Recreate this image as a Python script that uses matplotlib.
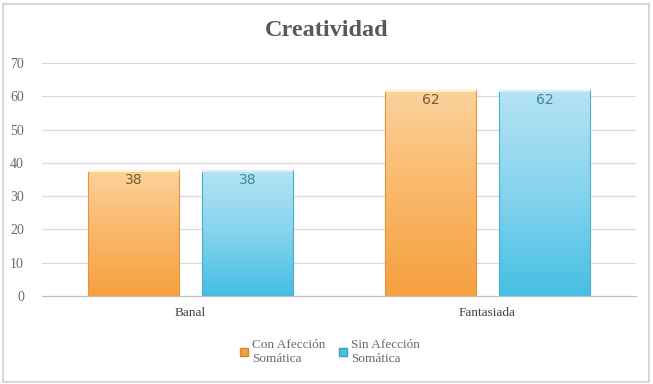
import numpy as np
import matplotlib
matplotlib.use("Agg")
import matplotlib.pyplot as plt
from matplotlib.colors import LinearSegmentedColormap
from matplotlib.patches import Rectangle

categories = ["Banal", "Fantasiada"]
series_names = ["Con Afección\nSomática", "Sin Afección\nSomática"]
con_afeccion = [38, 62]
sin_afeccion = [38, 62]
title = "Creatividad"
yticks = [0, 10, 20, 30, 40, 50, 60, 70]

W, H = 653, 384
fig = plt.figure(figsize=(W / 100, H / 100), dpi=100)
fig.patch.set_facecolor("white")
fig.patches.append(Rectangle((0.004, 0.005), 0.99, 0.985, transform=fig.transFigure,
                             fill=False, edgecolor="#d0d0d0", linewidth=1.2))

ax = fig.add_axes([42 / W, 1 - 296 / H, (636 - 42) / W, (296 - 63) / H])
ax.set_xlim(-0.5, 1.5)
ax.set_ylim(0, 70)

x = np.arange(len(categories))
bw = 0.305
off = 0.192

cmap_o = LinearSegmentedColormap.from_list("o", ["#F6A03E", "#F9B769", "#FCD29D"])
cmap_b = LinearSegmentedColormap.from_list("b", ["#45BFE3", "#86D3EE", "#B6E3F3"])
grad = np.linspace(0, 1, 256).reshape(-1, 1)

for vals, cmap, edge, txtc, sign in [(con_afeccion, cmap_o, "#E8943A", "#7a5a30", -1),
                                     (sin_afeccion, cmap_b, "#4aaed0", "#3a8a9a", 1)]:
    bars = ax.bar(x + sign * off, vals, width=bw, color="none", edgecolor=edge,
                  linewidth=0.8, zorder=3)
    for b, v in zip(bars, vals):
        x0 = b.get_x()
        im = ax.imshow(grad, cmap=cmap, origin="lower", aspect="auto",
                       extent=[x0, x0 + bw, 0, v], zorder=2)
        im.set_clip_path(b)
        ax.text(b.get_x() + bw / 2, v - 3, str(v), ha="center", va="center",
                fontsize=10, color=txtc, family="DejaVu Sans", zorder=4)
        ax.add_patch(Rectangle((x0, v - 0.7), bw, 0.7, color="#fff3c8" if sign < 0 else "#d8f2fa",
                               zorder=3, lw=0))

ax.set_xlim(-0.5, 1.5)
ax.set_ylim(0, 70)
ax.set_yticks(yticks)
ax.yaxis.grid(True, color="#d9d9d9", linewidth=0.9)
ax.set_axisbelow(True)
for s in ["top", "right", "left"]:
    ax.spines[s].set_visible(False)
ax.spines["bottom"].set_color("#bfbfbf")
ax.tick_params(axis="y", length=0, labelsize=10, labelcolor="#6a6a6a", pad=13)
ax.tick_params(axis="x", length=0, labelsize=9.5, labelcolor="#404040", pad=8)
ax.set_xticks(x)
ax.set_xticklabels(categories, family="Liberation Serif")
for lbl in ax.get_yticklabels():
    lbl.set_family("Liberation Serif")

fig.text(327 / W, 1 - 31 / H, title, ha="center", va="center", fontsize=17.5,
         fontweight="bold", color="#595959", family="Liberation Serif")

handles = [Rectangle((0, 0), 1, 1, facecolor="#F6A03E", edgecolor="#d08a30"),
           Rectangle((0, 0), 1, 1, facecolor="#45BFE3", edgecolor="#3aa0c0")]
leg = fig.legend(handles, series_names, loc="center", bbox_to_anchor=(330 / W, 1 - 352 / H),
                 ncol=2, frameon=False, handlelength=0.6, handleheight=0.6,
                 handletextpad=0.3, columnspacing=1.0,
                 prop={"family": "Liberation Serif", "size": 9.5})
for t in leg.get_texts():
    t.set_color("#6a6a6a")

fig.savefig("out.png", dpi=100, facecolor="white")
